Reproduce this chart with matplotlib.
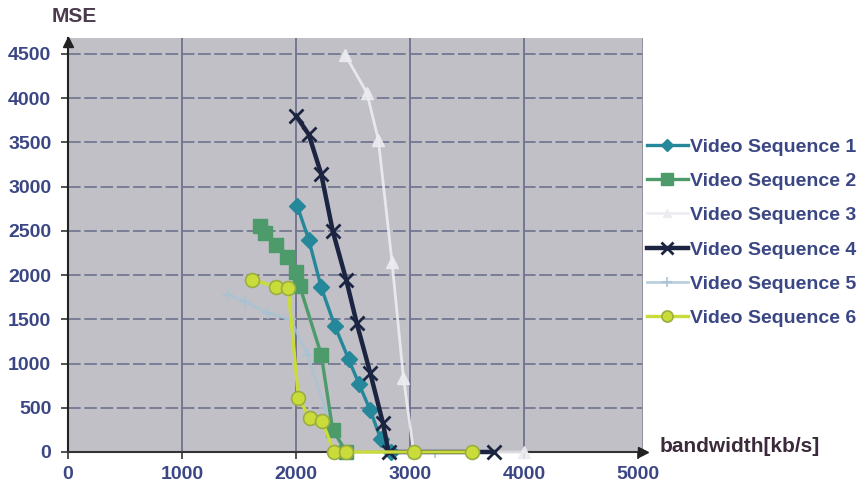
import matplotlib
matplotlib.use("Agg")
import matplotlib.pyplot as plt
import numpy as np

plt.rcParams['font.family'] = ['Liberation Sans', 'DejaVu Sans']
plt.rcParams['font.weight'] = 'bold'

# MSE versus bandwidth for each video sequence
labels = ['Video Sequence 1', 'Video Sequence 2', 'Video Sequence 3',
          'Video Sequence 4', 'Video Sequence 5', 'Video Sequence 6']

bw1 = [2010, 2110, 2220, 2340, 2460, 2550, 2650, 2740, 2830]
mse1 = [2780, 2400, 1860, 1420, 1050, 770, 470, 150, 0]

bw2 = [1680, 1730, 1820, 1920, 2000, 2030, 2220, 2320, 2440]
mse2 = [2550, 2480, 2340, 2200, 2040, 1880, 1100, 250, 0]

bw3 = [2430, 2620, 2720, 2840, 2940, 3030, 4000]
mse3 = [4490, 4060, 3530, 2150, 840, 0, 0]

bw4 = [2000, 2110, 2220, 2320, 2440, 2530, 2650, 2760, 2810, 3730]
mse4 = [3800, 3590, 3140, 2500, 1940, 1460, 890, 330, 0, 0]

bw5 = [1400, 1550, 1750, 1950, 2100, 2250, 2400, 2500, 3220]
mse5 = [1780, 1700, 1570, 1500, 1100, 500, 50, 0, 0]

bw6 = [1610, 1820, 1930, 2020, 2120, 2230, 2330, 2440, 3030, 3540]
mse6 = [1950, 1870, 1850, 610, 385, 345, 0, 0, 0, 0]

xticks = [0, 1000, 2000, 3000, 4000, 5000]
yticks = [0, 500, 1000, 1500, 2000, 2500, 3000, 3500, 4000, 4500]

txt_col = '#3b4784'
grid_col = '#737892'

fig = plt.figure(figsize=(8.63, 4.88), dpi=100)
ax = fig.add_axes([68 / 863, 36 / 488, 575 / 863, 414 / 488])
ax.set_facecolor('#c1c0c6')

ax.set_xlim(0, 5040)
ax.set_ylim(0, 4680)
ax.set_xticks(xticks)
ax.set_yticks(yticks)

# grid: solid verticals, dashed horizontals
for x in xticks[1:-1]:
    ax.axvline(x, color=grid_col, lw=1.4, zorder=1)
for y in yticks[1:]:
    ax.axhline(y, color=grid_col, lw=1.3, ls=(0, (7, 2)), zorder=1)

ax.plot(bw1, mse1, color='#24879a', lw=2.4, marker='D', ms=8, label=labels[0], zorder=3, clip_on=False)
ax.plot(bw2, mse2, color='#4d9a6a', lw=2.4, marker='s', ms=10, label=labels[1], zorder=3, clip_on=False)
ax.plot(bw3, mse3, color='#ececf2', lw=2.0, marker='^', ms=8, alpha=0.9, label=labels[2], zorder=3,
        clip_on=False)
ax.plot(bw4, mse4, color='#1b2440', lw=3.2, marker='x', ms=10, mew=2, label=labels[3], zorder=4, clip_on=False)
ax.plot(bw5, mse5, color='#a9c3d3', lw=2.0, marker='+', ms=9, mew=1.5, alpha=0.8,
        label=labels[4], zorder=2, clip_on=False)
ax.plot(bw6, mse6, color='#cadc3a', lw=2.4, marker='o', ms=10, mfc='#cadc3a', mec='#9aae40',
        mew=1.2, label=labels[5], zorder=5, clip_on=False)

for side in ['top', 'right']:
    ax.spines[side].set_visible(False)
ax.spines['left'].set_color('#222222')
ax.spines['bottom'].set_color('#333333')
ax.spines['left'].set_linewidth(1.5)
ax.spines['bottom'].set_linewidth(1.5)
ax.axvline(5040, color='#8d8d98', lw=2, zorder=1)

# axis arrows
ax.plot(0, 0.99, marker='^', color='#222222', ms=7, transform=ax.transAxes, clip_on=False, zorder=6)
ax.plot(1, 0, marker='>', color='#222222', ms=7, transform=ax.transAxes, clip_on=False, zorder=6)

ax.tick_params(axis='both', colors='#333333', labelcolor=txt_col, labelsize=14, length=5, width=1.2)
ax.tick_params(axis='y', pad=7)
ax.tick_params(axis='x', pad=5)
for t in ax.get_xticklabels() + ax.get_yticklabels():
    t.set_fontweight('bold')

fig.text(74 / 863, 1 - 17 / 488, 'MSE', ha='center', va='center', fontsize=15,
         fontweight='bold', color='#4a3a4c')
fig.text(660 / 863, 1 - 446 / 488, 'bandwidth[kb/s]', ha='left', va='center', fontsize=15,
         fontweight='bold', color='#3a2a3a')

leg = fig.legend(loc='upper left', bbox_to_anchor=(647 / 863, 1 - 138 / 488), frameon=False,
                 fontsize=14, labelcolor=txt_col, handlelength=2.1, handletextpad=0.12,
                 labelspacing=0.86, borderpad=0, borderaxespad=0, markerscale=0.8)
for t in leg.get_texts():
    t.set_fontweight('bold')

fig.savefig('out.png', dpi=100, facecolor='white')
